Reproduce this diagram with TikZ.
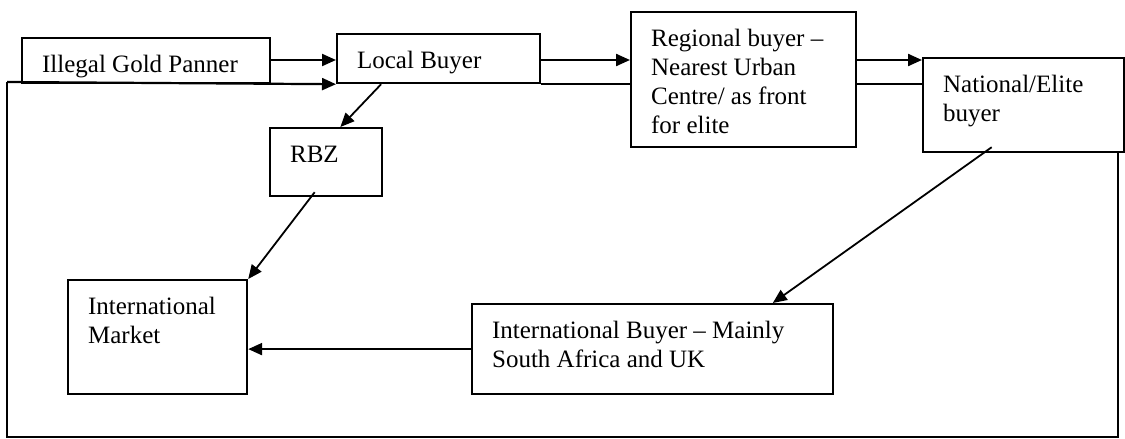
\documentclass[tikz,border=0pt]{standalone}
\usepackage{fontspec}
\setmainfont{Liberation Serif}
\usetikzlibrary{arrows.meta,calc}
\newcommand\bxt[3]{\parbox[c][#2][t]{#1}{\raggedright\rule{0pt}{10pt}#3}}
\begin{document}
\begin{tikzpicture}[x=0.5pt,y=-0.5pt,
  bx/.style={draw,line width=1.1pt,inner xsep=10pt,inner ysep=7pt,anchor=north west,font=\fontsize{12.5pt}{14.5pt}\selectfont},
  ln/.style={line width=1.1pt},
  arr/.style={line width=1.1pt,-{Triangle[length=7pt,width=6pt]}},
  darr/.style={line width=0.9pt,-{Triangle[length=7pt,width=6pt]}}]
\useasboundingbox (0,0) rectangle (1125,439);
% boxes
\node[bx] (panner) at (21,37) {\bxt{104pt}{8.5pt}{Illegal Gold Panner}};
\node[bx] (local) at (336,33) {\bxt{81.5pt}{10.5pt}{Local Buyer}};
\node[bx] (rbz) at (269,127) {\bxt{36pt}{20pt}{RBZ}};
\node[bx] (regional) at (630,11) {\bxt{92.5pt}{53.5pt}{Regional buyer --\\Nearest Urban\\Centre/ as front\\for elite}};
\node[bx] (national) at (922,57) {\bxt{80.5pt}{33pt}{National/Elite\\buyer}};
\node[bx] (im) at (67,279) {\bxt{69.5pt}{43pt}{International\\Market}};
\node[bx] (ib) at (471,303) {\bxt{160.5pt}{31pt}{International Buyer -- Mainly\\South Africa and UK}};
% outer frame
\coordinate (fTL) at (7,82);
\coordinate (fBL) at (7,437);
\coordinate (fBR) at (1118,437);
\coordinate (rowA) at (0,60);
\draw[ln] (national.south -| fBR) -- (fBR) -- (fBL) -- (fTL);
\draw[arr] (fTL) -- (local.south west);
\draw[ln] (local.south east) -- (regional.west |- local.south east);
\draw[ln] (regional.east |- local.south east) -- (national.west |- local.south east);
% top row
\draw[arr] (panner.east |- rowA) -- (local.west |- rowA);
\draw[arr] (local.east |- rowA) -- (regional.west |- rowA);
\draw[arr] (regional.east |- rowA) -- (national.west |- rowA);
% diagonals
\draw[darr] ($(local.south west)!0.22!(local.south east)$) -- ($(rbz.north west)!0.625!(rbz.north east)$);
\draw[darr] ($(rbz.south west)!0.4!(rbz.south east)+(0,-5)$) -- (im.north east);
\draw[darr] ($(national.south west)!0.343!(national.south east)+(0,-6)$) -- ($(ib.north west)!0.831!(ib.north east)$);
\draw[arr] (ib.west) -- (im.east |- ib.west);
\end{tikzpicture}
\end{document}
